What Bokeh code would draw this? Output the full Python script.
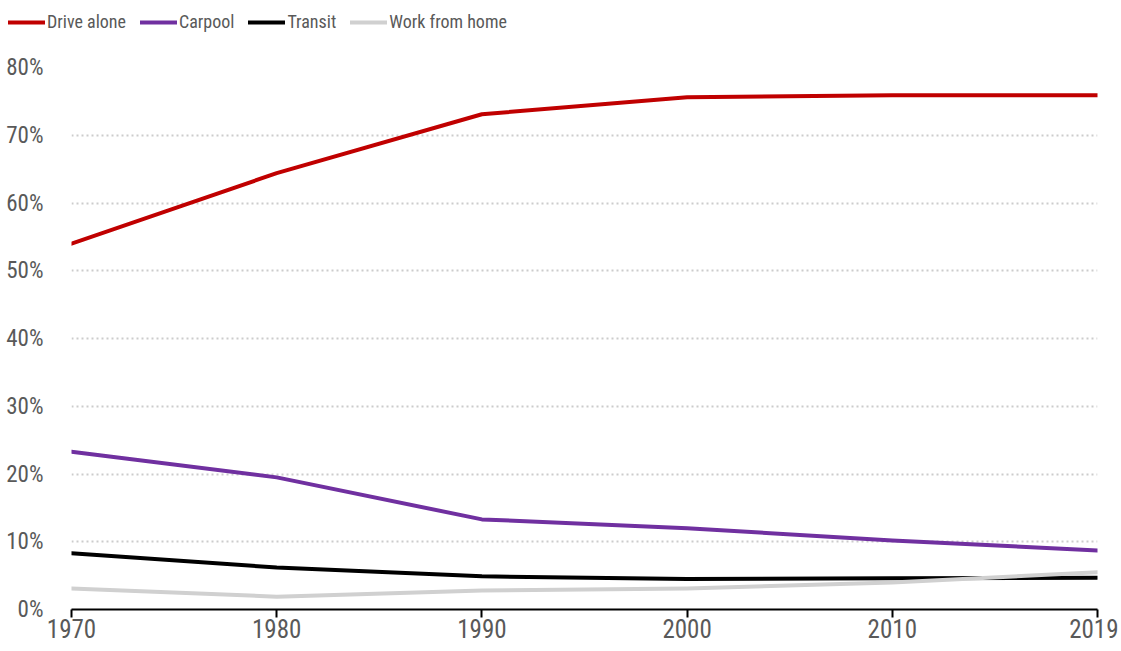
from bokeh.plotting import figure
from bokeh.layouts import column
from bokeh.models import Legend, LegendItem, FixedTicker, PrintfTickFormatter, Range1d
from bokeh.embed import file_html
from bokeh.resources import INLINE

years = ["1970", "1980", "1990", "2000", "2010", "2019"]
drive_alone = [54.0, 64.4, 73.1, 75.6, 75.9, 75.9]
carpool = [23.3, 19.5, 13.3, 12.0, 10.2, 8.7]
transit = [8.3, 6.2, 4.9, 4.5, 4.6, 4.7]
work_from_home = [3.1, 1.9, 2.8, 3.1, 4.0, 5.5]
y_ticks = [0, 10, 20, 30, 40, 50, 60, 70, 80]

FONT = "'Roboto Condensed', Roboto"
TXT = "#595959"
W = 1118
LEG_H = 40

xs = list(range(len(years)))
series = [
    ("Drive alone", drive_alone, "#C00000"),
    ("Carpool", carpool, "#7030A0"),
    ("Transit", transit, "#000000"),
    ("Work from home", work_from_home, "#D0D0D0"),
]

# ---- legend strip ----
lf = figure(width=W, height=LEG_H, output_backend="svg", toolbar_location=None,
            x_range=Range1d(0, len(years) - 1), y_range=Range1d(-1000, -999),
            x_axis_location=None, y_axis_location=None,
            min_border=0, min_border_left=0, min_border_right=0,
            min_border_top=0, min_border_bottom=0)
lf.frame_align = False
lf.grid.visible = False
lf.outline_line_color = None
items = []
for name, vals, col in series:
    r = lf.line(xs, vals, line_color=col, line_width=4, line_cap="round")
    items.append(LegendItem(label=name, renderers=[r]))
legend = Legend(items=items, orientation="horizontal", location=(8, 8),
                glyph_width=37, glyph_height=20, label_standoff=2, spacing=14,
                padding=0, margin=0, border_line_color=None, background_fill_alpha=0,
                label_text_font=FONT, label_text_font_size="18px", label_text_color=TXT)
lf.add_layout(legend, "center")

# ---- main chart ----
p = figure(width=W, height=643 - LEG_H, output_backend="svg", toolbar_location=None,
           x_range=Range1d(0, len(years) - 1), y_range=Range1d(0, 80),
           min_border_left=71, min_border_right=21, min_border_top=67 - LEG_H,
           min_border_bottom=34)
p.frame_align = False
p.outline_line_color = None
p.background_fill_color = "white"
p.border_fill_color = "white"

for name, vals, col in series:
    p.line(xs, vals, line_color=col, line_width=4, line_cap="round", line_join="round")

p.xgrid.grid_line_color = None
p.ygrid.ticker = FixedTicker(ticks=y_ticks[1:])
p.ygrid.grid_line_color = "#CCCCCC"
p.ygrid.grid_line_width = 2
p.ygrid.grid_line_dash = "2 3"

p.xaxis.ticker = FixedTicker(ticks=xs)
p.xaxis.major_label_overrides = {i: y for i, y in enumerate(years)}
p.xaxis.axis_line_color = "black"
p.xaxis.axis_line_width = 2
p.xaxis.major_tick_line_color = "black"
p.xaxis.major_tick_line_width = 2
p.xaxis.major_tick_out = 8
p.xaxis.major_tick_in = 0
p.xaxis.minor_tick_line_color = None
p.xaxis.major_label_text_font = FONT
p.xaxis.major_label_text_font_size = "25px"
p.xaxis.major_label_text_color = TXT
p.xaxis.major_label_standoff = 1

p.yaxis.ticker = FixedTicker(ticks=y_ticks)
p.yaxis.formatter = PrintfTickFormatter(format="%d%%")
p.yaxis.axis_line_color = None
p.yaxis.major_tick_line_color = None
p.yaxis.minor_tick_line_color = None
p.yaxis.major_label_text_font = FONT
p.yaxis.major_label_text_font_size = "23px"
p.yaxis.major_label_text_color = TXT
p.yaxis.major_label_standoff = 22

layout = column(lf, p, spacing=0)
open("out.html", "w").write(file_html(layout, INLINE))
